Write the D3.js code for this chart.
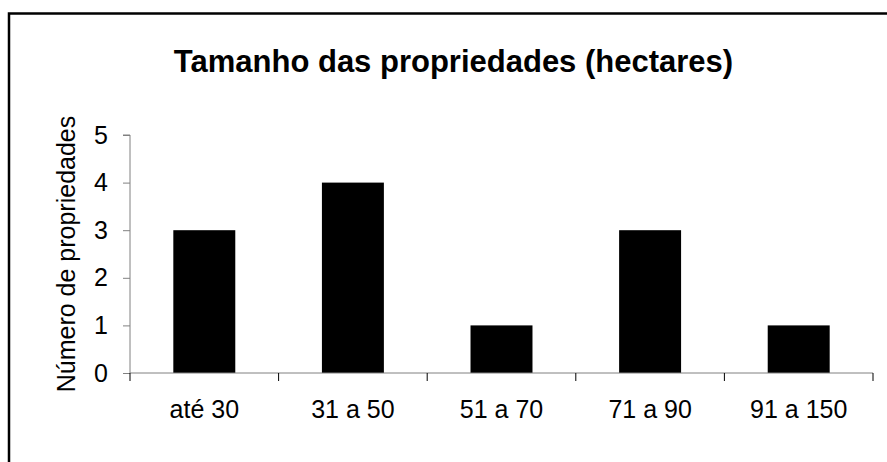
<!DOCTYPE html>
<html>
<head>
<meta charset="utf-8">
<script src="https://cdn.jsdelivr.net/npm/d3@7"></script>
<style>
  html, body { margin: 0; padding: 0; background: #fff; }
  svg { display: block; }
  text { font-family: "Liberation Sans", Arial, sans-serif; fill: #000; }
</style>
</head>
<body>
<svg id="chart" width="887" height="462"></svg>
<script>
const categories = ["até 30", "31 a 50", "51 a 70", "71 a 90", "91 a 150"];
const values = [3, 4, 1, 3, 1];
const yTicks = [0, 1, 2, 3, 4, 5];
const titleText = "Tamanho das propriedades (hectares)";
const yLabel = "Número de propriedades";

const svg = d3.select("#chart");
const W = 887, H = 462;
const plot = { left: 130, right: 873, top: 135, bottom: 373 };

svg.append("rect").attr("width", W).attr("height", H).attr("fill", "#fff");
// outer frame (extends past viewport on right/bottom)
svg.append("rect")
  .attr("x", 9).attr("y", 13.5).attr("width", 900).attr("height", 500)
  .attr("fill", "none").attr("stroke", "#000").attr("stroke-width", 2.5);

svg.append("text")
  .attr("x", 453.5).attr("y", 72)
  .attr("text-anchor", "middle")
  .attr("font-size", 31).attr("font-weight", "bold")
  .text(titleText);

const x = d3.scaleBand().domain(categories)
  .range([plot.left, plot.right]).paddingInner(0.583).paddingOuter(0.2915);
const xTickScale = d3.scaleLinear().domain([0, categories.length]).range([plot.left, plot.right]);
const y = d3.scaleLinear().domain([0, 5]).range([plot.bottom, plot.top]);

// bars
svg.append("g").selectAll("rect").data(values).join("rect")
  .attr("x", (d, i) => x(categories[i]))
  .attr("y", d => y(d))
  .attr("width", x.bandwidth())
  .attr("height", d => y(0) - y(d))
  .attr("fill", "#000");

// y axis
const yAxis = svg.append("g").attr("transform", `translate(${plot.left},0)`)
  .call(d3.axisLeft(y).tickValues(yTicks).tickSize(7).tickPadding(15).tickFormat(d3.format("d")));
yAxis.select(".domain").attr("stroke", "#808080").attr("d", `M-7,${plot.top}H0V${plot.bottom}`);
yAxis.selectAll(".tick line").attr("stroke", "#808080");
yAxis.selectAll(".tick text").attr("font-size", 25).attr("font-family", "Liberation Sans, Arial, sans-serif").attr("fill", "#000");

// x axis: category labels centered in bands, tick marks at band boundaries
const xAxis = svg.append("g").attr("transform", `translate(0,${plot.bottom})`);
xAxis.append("line").attr("x1", plot.left).attr("x2", plot.right).attr("y1", 0).attr("y2", 0)
  .attr("stroke", "#808080");
xAxis.selectAll("line.bt").data(d3.range(categories.length + 1)).join("line").attr("class", "bt")
  .attr("x1", d => xTickScale(d)).attr("x2", d => xTickScale(d))
  .attr("y1", 0).attr("y2", 8).attr("stroke", "#000");
xAxis.selectAll("text").data(categories).join("text")
  .attr("x", d => x(d) + x.bandwidth() / 2)
  .attr("y", 45)
  .attr("text-anchor", "middle")
  .attr("font-size", 25)
  .text(d => d);

// y label
svg.append("text")
  .attr("transform", `translate(75,254) rotate(-90)`)
  .attr("text-anchor", "middle")
  .attr("font-size", 25)
  .text(yLabel);
</script>
</body>
</html>
